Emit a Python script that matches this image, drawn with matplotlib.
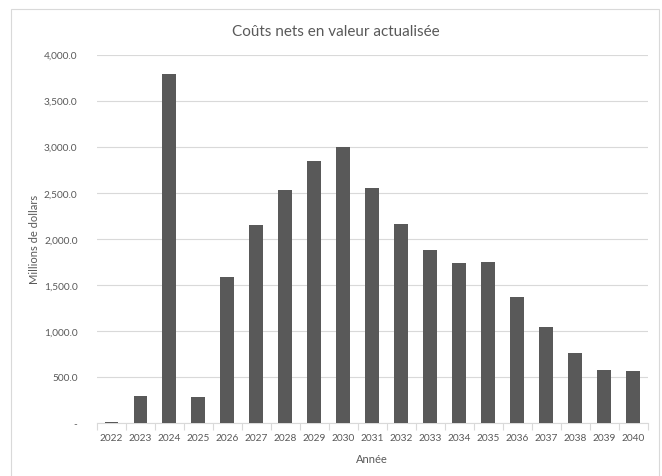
"""Couts nets en valeur actualisee, bar chart."""

import matplotlib

matplotlib.use("Agg")
import matplotlib.pyplot as plt
from matplotlib.patches import Rectangle
from matplotlib.ticker import FuncFormatter

years = [str(y) for y in range(2022, 2041)]
net_costs = [15, 290, 3790, 280, 1590, 2145, 2525, 2840, 3000, 2555,
             2165, 1875, 1735, 1745, 1365, 1040, 755, 580, 565]
y_ticks = [0, 500, 1000, 1500, 2000, 2500, 3000, 3500, 4000]

TEXT = "#595959"
plt.rcParams["font.family"] = ["Lato", "DejaVu Sans"]

figure = plt.figure(figsize=(6.62, 4.77), dpi=100)
axis = figure.add_axes([97 / 662, 53 / 477, 550.5 / 662, 368.5 / 477])

positions = range(len(years))
axis.bar(positions, net_costs, width=0.48, color="#595959", zorder=3)

axis.set_xlim(-0.5, len(years) - 0.5)
axis.set_ylim(0, 4000)
axis.set_yticks(y_ticks)
axis.yaxis.set_major_formatter(
    FuncFormatter(lambda v, _: "-" if v == 0 else f"{v:,.1f}")
)
axis.set_xticks(list(positions))
axis.set_xticklabels(years)
axis.set_xticks([p - 0.5 for p in range(len(years) + 1)], minor=True)

axis.grid(axis="y", color="#d9d9d9", linewidth=0.8, zorder=0)
for side in ["top", "right", "left"]:
    axis.spines[side].set_visible(False)
axis.spines["bottom"].set_color("#d9d9d9")
axis.spines["bottom"].set_linewidth(0.8)

axis.tick_params(axis="y", length=0, pad=14, labelsize=7.3, labelcolor=TEXT)
axis.tick_params(axis="x", which="major", length=0, pad=7, labelsize=7.3,
                 labelcolor=TEXT)
axis.tick_params(axis="x", which="minor", length=5, color="#d9d9d9", width=0.8)

axis.set_xlabel("Année", fontsize=8, color=TEXT, labelpad=8)
axis.set_ylabel("Millions de dollars", fontsize=8, color=TEXT, labelpad=3)
figure.text(336 / 662, 1 - 32 / 477, "Coûts nets en valeur actualisée",
            ha="center", va="center", fontsize=11, color=TEXT)

figure.patches.append(Rectangle((11 / 662, -0.05), 648 / 662, 1.05 - 10 / 477,
                                transform=figure.transFigure, fill=False,
                                edgecolor="#d9d9d9", linewidth=0.8))

figure.savefig("out.png", dpi=100)
